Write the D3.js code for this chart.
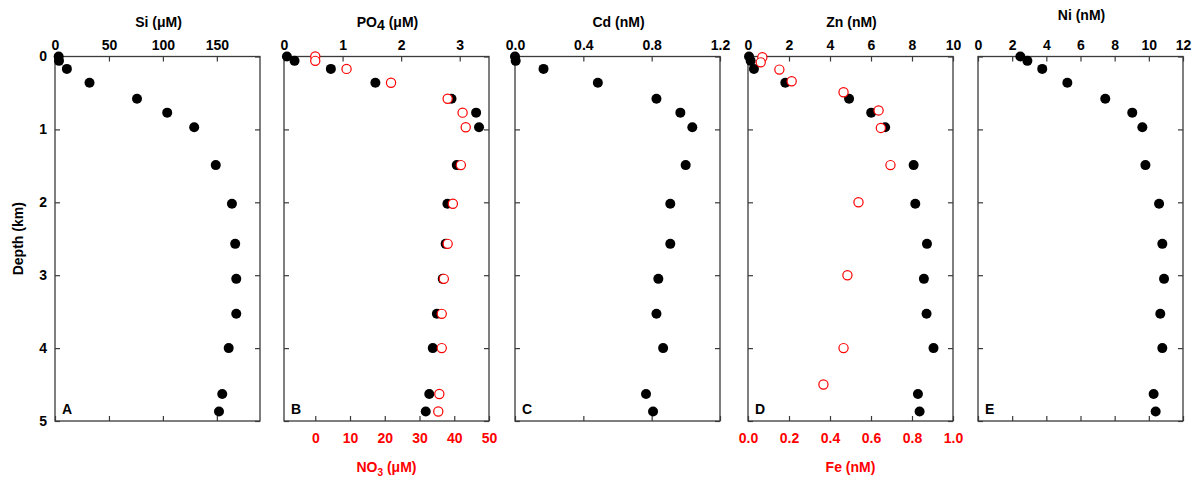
<!DOCTYPE html>
<html>
  <head>
    <meta charset="utf-8">
    <title>Depth profiles</title>
    <style>
      body {
        margin: 0px;
        overflow: hidden;
        background: white;
      }

      text {
        font-family: Arial, "Liberation Sans", sans-serif;
        font-weight: bold;
      }

      .frame {
        fill: none;
        stroke: #3a3a3a;
        stroke-width: 1.3px;
      }

      .tick line {
        stroke: #3a3a3a;
        stroke-width: 1.2px;
      }

      .tick text {
        font-size: 14px;
      }

      .red text, .red {
        fill: #ff0000;
      }

      .dot {
        fill: black;
      }

      .ring {
        fill: white;
        stroke: #ff0000;
        stroke-width: 1.2px;
      }
    </style>
  </head>
  <body>
    <svg id="container" width="1200" height="484"></svg>
    <script src="https://cdn.jsdelivr.net/npm/d3@7"></script>

    <script type="text/javascript">
      // depths (km) shared by the black series
      var depth = [0.0, 0.06, 0.17, 0.36, 0.58, 0.77, 0.97, 1.49, 2.02, 2.57, 3.05, 3.53, 4.0, 4.63, 4.87];
      var si  = [3.4, 3.7, 11, 32, 76, 104, 129, 149, 164, 167, 168, 168, 161, 155, 152];
      var po4 = [0.05, 0.18, 0.80, 1.56, 2.86, 3.28, 3.33, 2.95, 2.79, 2.76, 2.71, 2.61, 2.54, 2.48, 2.42];
      var no3 = [0, 0, 9.0, 21.8, 38.1, 42.4, 43.3, 41.9, 39.6, 38.1, 37.0, 36.4, 36.4, 35.7, 35.4];
      var cd  = [0.0, 0.004, 0.167, 0.485, 0.828, 0.968, 1.038, 0.999, 0.909, 0.909, 0.839, 0.828, 0.867, 0.767, 0.808];
      var zn  = [0.05, 0.13, 0.29, 1.82, 4.93, 6.01, 6.69, 8.08, 8.16, 8.73, 8.58, 8.71, 9.05, 8.29, 8.37];
      var ni  = [2.48, 2.89, 3.76, 5.23, 7.45, 9.03, 9.62, 9.80, 10.60, 10.79, 10.89, 10.67, 10.79, 10.28, 10.40];

      // Fe was sampled at its own depths
      var feDepth = [0.01, 0.08, 0.18, 0.34, 0.49, 0.74, 0.98, 1.49, 2.0, 3.0, 4.0, 4.5];
      var fe = [0.07, 0.062, 0.153, 0.213, 0.466, 0.637, 0.648, 0.695, 0.539, 0.485, 0.466, 0.368];

      var depthTicks = [0, 1, 2, 3, 4, 5];
      var siTicks = [0, 50, 100, 150];
      var po4Ticks = [0, 1, 2, 3];
      var no3Ticks = [0, 10, 20, 30, 40, 50];
      var cdTicks = [0, 0.4, 0.8, 1.2];
      var znTicks = [0, 2, 4, 6, 8, 10];
      var feTicks = [0, 0.2, 0.4, 0.6, 0.8, 1.0];
      var niTicks = [0, 2, 4, 6, 8, 10, 12];

      // note: "top" is taken by window.top, so the plot edges get other names
      var yTop = 56.5, yBottom = 421, panelW = 205;
      var container = d3.select('#container');

      var y = d3.scaleLinear().domain([0, 5]).range([yTop, yBottom]);

      var panels = [
        { left: 55,  title: 'Si (\u03bcM)', domain: [0, 190], ticks: siTicks, fmt: d3.format('d'), values: si, letter: 'A', titleY: 27 },
        { left: 284, title: 'PO', sub: '4', unit: ' (\u03bcM)', domain: [0, 3.5], ticks: po4Ticks, fmt: d3.format('d'), values: po4, letter: 'B', titleY: 27,
          red: { domain: [-9, 50], ticks: no3Ticks, fmt: d3.format('d'), depths: depth, values: no3, title: 'NO', sub: '3', unit: ' (\u03bcM)' } },
        { left: 515, title: 'Cd (nM)', domain: [0, 1.2], ticks: cdTicks, fmt: d3.format('.1f'), values: cd, letter: 'C', titleY: 27 },
        { left: 748, title: 'Zn (nM)', domain: [0, 10], ticks: znTicks, fmt: d3.format('d'), values: zn, letter: 'D', titleY: 27,
          red: { domain: [0, 1], ticks: feTicks, fmt: d3.format('.1f'), depths: feDepth, values: fe, title: 'Fe (nM)' } },
        { left: 978, title: 'Ni (nM)', domain: [0, 12], ticks: niTicks, fmt: d3.format('d'), values: ni, letter: 'E', titleY: 20 }
      ];

      panels.forEach(function (p, i) {
        var x = d3.scaleLinear().domain(p.domain).range([p.left, p.left + panelW]);
        var g = container.append('g');

        // top axis with labels, ticks pointing inward
        g.append('g')
          .attr('transform', 'translate(0,' + yTop + ')')
          .call(d3.axisTop(x).tickValues(p.ticks).tickFormat(p.fmt).tickSize(-5).tickPadding(7))
          .call(function (a) { a.select('.domain').remove(); });

        // bottom ticks (labels only for the red scale)
        var bx = p.red ? d3.scaleLinear().domain(p.red.domain).range([p.left, p.left + panelW]) : x;
        var bt = p.red ? p.red.ticks : p.ticks;
        var bAxis = g.append('g')
          .attr('class', p.red ? 'red' : '')
          .attr('transform', 'translate(0,' + yBottom + ')')
          .call(d3.axisBottom(bx).tickValues(bt).tickFormat(p.red ? p.red.fmt : '').tickSize(-5).tickPadding(12))
          .call(function (a) { a.select('.domain').remove(); });
        bAxis.selectAll('.tick line').style('stroke', '#3a3a3a');

        // left and right depth ticks
        g.append('g')
          .attr('transform', 'translate(' + p.left + ',0)')
          .call(d3.axisLeft(y).tickValues(depthTicks).tickFormat(i === 0 ? d3.format('d') : '').tickSize(-5).tickPadding(8))
          .call(function (a) { a.select('.domain').remove(); });
        g.append('g')
          .attr('transform', 'translate(' + (p.left + panelW) + ',0)')
          .call(d3.axisRight(y).tickValues(depthTicks).tickFormat('').tickSize(-5))
          .call(function (a) { a.select('.domain').remove(); });

        g.append('rect')
          .attr('class', 'frame')
          .attr('x', p.left).attr('y', yTop)
          .attr('width', panelW).attr('height', yBottom - yTop);

        // title
        var t = g.append('text')
          .attr('x', p.left + panelW / 2 + 1)
          .attr('y', p.titleY)
          .attr('text-anchor', 'middle')
          .style('font-size', '14px')
          .text(p.title);
        if (p.sub) {
          t.append('tspan').attr('dy', 3).text(p.sub);
          t.append('tspan').attr('dy', -3).text(p.unit);
        }

        g.append('text')
          .attr('x', p.left + 7)
          .attr('y', 414)
          .style('font-size', '14px')
          .text(p.letter);

        g.selectAll('.dot')
          .data(p.values)
          .enter().append('circle')
          .attr('class', 'dot')
          .attr('cx', function (d) { return x(d); })
          .attr('cy', function (d, k) { return y(depth[k]); })
          .attr('r', 5);

        if (p.red) {
          var rx = bx;
          var r = p.red;
          g.selectAll('.ring')
            .data(r.values)
            .enter().append('circle')
            .attr('class', 'ring')
            .attr('cx', function (d) { return rx(d); })
            .attr('cy', function (d, k) { return y(r.depths[k]); })
            .attr('r', 4.6);

          var rt = g.append('text')
            .attr('class', 'red')
            .attr('x', p.left + panelW / 2)
            .attr('y', 472)
            .attr('text-anchor', 'middle')
            .style('font-size', '14px')
            .text(r.title);
          if (r.sub) {
            rt.append('tspan').attr('dy', 4).style('font-size', '10px').text(r.sub);
            rt.append('tspan').attr('dy', -4).text(r.unit);
          }
        }
      });

      // depth axis title
      container.append('text')
        .attr('transform', 'translate(23,' + ((yTop + yBottom) / 2) + ') rotate(-90)')
        .attr('text-anchor', 'middle')
        .style('font-size', '14px')
        .text('Depth (km)');
    </script>
  </body>
</html>
